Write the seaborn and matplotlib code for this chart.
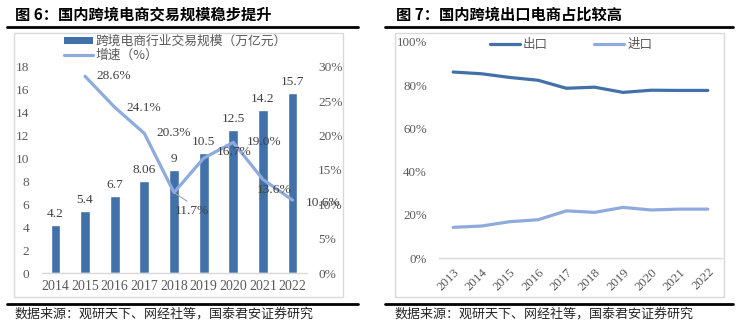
import matplotlib
matplotlib.use("Agg")
import matplotlib.pyplot as plt
import seaborn as sns
import pandas as pd
from matplotlib.patches import Rectangle, Patch
from matplotlib.lines import Line2D

# ---- data -------------------------------------------------------------
scale_years = ["2014", "2015", "2016", "2017", "2018", "2019", "2020", "2021", "2022"]
trade_scale = [4.2, 5.4, 6.7, 8.06, 9, 10.5, 12.5, 14.2, 15.7]          # 万亿元
growth_years = ["2015", "2016", "2017", "2018", "2019", "2020", "2021", "2022"]
growth_pct = [28.6, 24.1, 20.3, 11.7, 16.7, 19.0, 13.6, 10.6]            # %

share_years = ["2013", "2014", "2015", "2016", "2017", "2018", "2019", "2020", "2021", "2022"]
export_share = [86.0, 85.2, 83.5, 82.2, 78.5, 79.0, 76.6, 77.6, 77.5, 77.5]  # %
import_share = [14.3, 14.9, 16.9, 17.8, 21.9, 21.2, 23.5, 22.3, 22.7, 22.7]  # %

# ---- style ------------------------------------------------------------
sns.set_theme(style="white")
plt.rcParams["font.family"] = ["Liberation Serif", "Noto Sans CJK SC"]
CJK = ["Noto Sans CJK SC", "DejaVu Sans"]
DARK_BLUE = "#4270A8"
LIGHT_BLUE = "#8FAADC"
TICK_GREY = "#595959"
LABEL_GREY = "#404040"
RULE_GREY = "#D9D9D9"

W, H = 744, 323
fig = plt.figure(figsize=(W / 100, H / 100), dpi=100)


def fx(px):
    return px / W


def fy(py):
    return 1 - py / H


def rect(x0, y0, x1, y1):
    return [fx(x0), fy(y1), fx(x1) - fx(x0), fy(y0) - fy(y1)]


# ---- panel frames, rules, titles, sources -----------------------------
for (bx0, by0, bx1, by1) in [(14, 32.5, 343, 296.7), (394.5, 33, 723.7, 296.7)]:
    fig.add_artist(Rectangle((fx(bx0), fy(by1)), fx(bx1) - fx(bx0), fy(by0) - fy(by1),
                             transform=fig.transFigure, fill=False,
                             edgecolor=RULE_GREY, lw=1.0))
for (lx0, lx1) in [(6.7, 358), (385.3, 732.7)]:
    for ly in (26.7, 304):
        fig.add_artist(Line2D([fx(lx0), fx(lx1)], [fy(ly), fy(ly)],
                              transform=fig.transFigure, color="black", lw=2.0))

fig.text(fx(15), fy(15), "图 6：国内跨境电商交易规模稳步提升", family=CJK,
         fontsize=11.0, fontweight="bold", va="center", ha="left", color="black")
fig.text(fx(396), fy(15), "图 7：国内跨境出口电商占比较高", family=CJK,
         fontsize=11.0, fontweight="bold", va="center", ha="left", color="black")
source = "数据来源：观研天下、网经社等，国泰君安证券研究"
fig.text(fx(15), fy(314.3), source, family=CJK, fontsize=9.4, va="center", ha="left")
fig.text(fx(394.7), fy(314.3), source, family=CJK, fontsize=9.4, va="center", ha="left")

# ---- left panel: trade scale bars + growth line -----------------------
ax1 = fig.add_axes(rect(41.5, 66.7, 306.5, 273))
df_scale = pd.DataFrame({"year": scale_years, "scale": trade_scale})
sns.barplot(data=df_scale, x="year", y="scale", color=DARK_BLUE, saturation=1,
            width=0.33, ax=ax1)

ax2 = ax1.twinx()
df_growth = pd.DataFrame({"pos": [scale_years.index(y) for y in growth_years],
                          "growth": growth_pct})
sns.lineplot(data=df_growth, x="pos", y="growth", color=LIGHT_BLUE, lw=2.3,
             ax=ax2, legend=False)

ax1.set_xlim(-0.47, 8.47)
ax1.set_ylim(0, 18)
ax1.set_xticks(range(len(scale_years)), labels=scale_years)
ax1.set_yticks(range(0, 19, 2))
ax1.set_xlabel("")
ax1.set_ylabel("")
ax1.tick_params(axis="x", length=0, pad=5, labelsize=10, labelcolor=TICK_GREY)
ax1.tick_params(axis="y", length=0, pad=8.6, labelsize=9.6, labelcolor=TICK_GREY)
for side in ("left", "right", "top"):
    ax1.spines[side].set_visible(False)
ax1.spines["bottom"].set_color(RULE_GREY)
ax1.spines["bottom"].set_linewidth(1.0)

ax2.set_ylim(0, 30)
ax2.set_yticks(range(0, 31, 5), labels=[f"{v}%" for v in range(0, 31, 5)])
ax2.set_xlabel("")
ax2.set_ylabel("")
ax2.tick_params(axis="y", length=0, pad=8.3, labelsize=9.6, labelcolor=TICK_GREY)
for side in ("left", "right", "top", "bottom"):
    ax2.spines[side].set_visible(False)

# bar value labels
for i, v in enumerate(trade_scale):
    ax1.annotate(f"{v:g}", (i, v), xytext=(0, 3.5), textcoords="offset points",
                 ha="center", va="bottom", fontsize=9.6, color=LABEL_GREY)

# growth labels: offsets in points, alignment per label
growth_label_place = [
    ((8.3, 0), "left"), ((8.6, -0.7), "left"), ((8.5, 0), "left"),
    ((13, -13), "center"), ((9.7, 4.7), "left"), ((10, 0), "left"),
    ((7.9, -7.6), "center"), ((9.6, -2.4), "left"),
]
for (yr, v), (off, ha) in zip(zip(growth_years, growth_pct), growth_label_place):
    kw = {}
    if yr == "2018":
        kw["arrowprops"] = dict(arrowstyle="-", color="#A6A6A6", lw=0.8,
                                shrinkA=0, shrinkB=1, relpos=(0.5, 1.0))
    ax2.annotate(f"{v:.1f}%", (scale_years.index(yr), v), xytext=off,
                 textcoords="offset points", ha=ha, va="center",
                 fontsize=9.6, color=LABEL_GREY, **kw)

leg1 = ax2.legend(handles=[Patch(facecolor=DARK_BLUE, edgecolor="none"),
                           Line2D([], [], color=LIGHT_BLUE, lw=2.3)],
                  labels=["跨境电商行业交易规模（万亿元）", "增速（%）"],
                  loc="upper left", bbox_to_anchor=(fx(64), fy(35)),
                  bbox_transform=fig.transFigure, frameon=False,
                  prop={"family": CJK, "size": 9.2}, borderpad=0,
                  borderaxespad=0, handlelength=2.24, handleheight=0.45,
                  handletextpad=0.2, labelspacing=0.05)
for t in leg1.get_texts():
    t.set_color(TICK_GREY)

# ---- right panel: export / import share --------------------------------
ax3 = fig.add_axes(rect(439, 41.7, 722, 258.3))
df_share = pd.DataFrame({
    "pos": list(range(len(share_years))) * 2,
    "share": export_share + import_share,
    "kind": ["出口"] * len(share_years) + ["进口"] * len(share_years),
})
sns.lineplot(data=df_share, x="pos", y="share", hue="kind",
             palette={"出口": DARK_BLUE, "进口": LIGHT_BLUE}, lw=2.3, ax=ax3,
             legend=False)
ax3.set_xlim(-0.5, 9.5)
ax3.set_ylim(0, 100)
ax3.set_xticks(range(len(share_years)), labels=share_years, rotation=45,
               ha="right", rotation_mode="anchor")
ax3.set_yticks(range(0, 101, 20), labels=[f"{v}%" for v in range(0, 101, 20)])
ax3.set_xlabel("")
ax3.set_ylabel("")
ax3.tick_params(axis="x", length=0, pad=5.5, labelsize=9.3, labelcolor=TICK_GREY)
ax3.tick_params(axis="y", length=0, pad=8.6, labelsize=9.3, labelcolor=TICK_GREY)
for side in ("left", "right", "top"):
    ax3.spines[side].set_visible(False)
ax3.spines["bottom"].set_color(RULE_GREY)
ax3.spines["bottom"].set_linewidth(1.0)

leg3 = ax3.legend(handles=[Line2D([], [], color=DARK_BLUE, lw=2.3),
                           Line2D([], [], color=LIGHT_BLUE, lw=2.3)],
                  labels=["出口", "进口"], ncol=2, loc="center left",
                  bbox_to_anchor=(fx(490), fy(44.7)),
                  bbox_transform=fig.transFigure, frameon=False,
                  prop={"family": CJK, "size": 9.0}, borderpad=0,
                  borderaxespad=0, handlelength=2.4, handletextpad=0.25,
                  columnspacing=3.7)
for t in leg3.get_texts():
    t.set_color(TICK_GREY)

fig.savefig("out.png", dpi=100)
